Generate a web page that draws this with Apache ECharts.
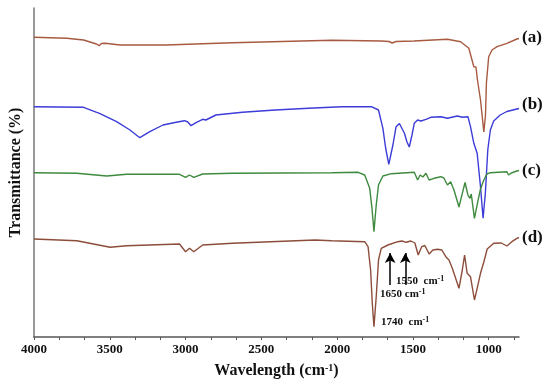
<!DOCTYPE html>
<html>
<head>
<meta charset="utf-8">
<script src="https://cdn.jsdelivr.net/npm/echarts@6/dist/echarts.min.js"></script>
<style>html,body{margin:0;padding:0;background:#fff}#c{width:550px;height:385px}</style>
</head>
<body>
<div id="c"></div>
<script>
// Wavenumbers (cm-1) and relative transmittance (arbitrary units, offset stacked)
const wnA = [4000,3784,3673,3588,3570,3555,3531,3432,3129,2691,2036,1709,1657,1637,1611,1493,1272,1185,1131,1098,1092,1084,1074,1054,1032,1021,1015,1000,978,945,880,814,800];
const tA  = [299.7,298.7,297,293,291.3,293.5,293.7,292,292,294.3,296.7,296,295.5,294,295.5,296,297.7,295.3,288.7,270.3,269,270,257,237,205,222,254,280.3,287,290.3,293.7,298,298.5];

const wnB = [4000,3673,3586,3568,3555,3455,3367,3302,3236,3149,3062,3007,2985,2964,2931,2887,2866,2800,2625,2407,2189,1971,1774,1727,1698,1680,1659,1632,1611,1589,1556,1539,1524,1506,1491,1469,1447,1414,1382,1316,1272,1207,1174,1137,1120,1098,1087,1076,1054,1037,1022,1006,989,967,924,880,814,800];
const tB  = [230.3,229.7,224.7,223.7,223.5,215.3,207,199.3,205.3,212,214.7,216.3,215,211.3,214.3,217.7,217,222,224.7,227,228.7,230.3,230.3,227,208.7,189,172.7,192,210.3,213.5,203.7,195,190,202,213.7,217,216,217.7,219.7,220.3,218.7,221,219.7,220.3,210.3,193.7,195.3,183.7,150.3,118.7,143.7,187,207,216,222,225.5,228,228.5];

const wnC = [4000,3717,3520,3389,3040,3000,2974,2946,2887,2691,2036,1861,1818,1785,1770,1757,1742,1727,1698,1643,1491,1469,1452,1434,1414,1393,1360,1316,1296,1272,1251,1229,1196,1174,1156,1137,1124,1115,1094,1072,1054,1032,1012,989,880,869,851,814,800];
const tC  = [164.3,163.7,161,162.7,162.7,159.7,162,159.7,163,163.7,164.3,164.7,162,148.7,128.7,105.3,132,152,161,163.3,164.7,157,162,160,163.7,157,158.7,160.3,159,152,155.3,147,130,143.7,154.5,142,138.7,143,118.7,135.3,148,157,163,164.3,165.3,162,164,166,166.5];

const wnD = [4000,3717,3498,3389,3040,3000,2974,2946,2887,2691,2145,2036,1818,1796,1779,1768,1757,1742,1727,1709,1665,1600,1572,1545,1513,1487,1465,1442,1421,1393,1368,1338,1309,1283,1262,1240,1196,1174,1159,1142,1120,1094,1076,1054,1032,1010,967,917,880,847,814,800];
const tD  = [98,96.3,89.7,91.3,93,85.3,88.7,85.3,92,93.7,97,96.3,95.3,90.3,67,33.7,10.3,40.3,77,88.7,92,95.3,96,94.7,96,94,82,90.3,91.5,83,87,87.7,87,80.3,77,68.7,48.7,67,82,63.7,60.3,37,48.7,63.7,75,88,93.7,94,91,95.3,98.7,99.5];

const seriesNames = ['(a)','(b)','(c)','(d)'];
const xTickLabels = [1000,1500,2000,2500,3000,3500,4000];
const xMinorTicks = [833.33,1000,1166.67,1333.33,1500,1666.67,1833.33,2000,2166.67,2333.33,2500,2666.67,2833.33,3000,3166.67,3333.33,3500,3666.67,3833.33,4000];
const arrowPeaks = [1650,1550];

const colors = ['#a75a40','#3c3cd8','#3e8a3e','#8d4d3b'];
const serif = '"Liberation Serif","DejaVu Serif",serif';

function pairs(x,y){return x.map((v,i)=>[v,y[i]]);}
const allData = [pairs(wnA,tA),pairs(wnB,tB),pairs(wnC,tC),pairs(wnD,tD)];

const chart = echarts.init(document.getElementById('c'));
const series = allData.map((d,i)=>({
  type:'line', data:d, name:seriesNames[i], showSymbol:false, smooth:false,
  lineStyle:{color:colors[i], width:1.4},
  animation:false
}));
series[3].markLine = {
  silent:true, symbol:['none','arrow'], symbolSize:[8,10],
  lineStyle:{color:'#000', width:1.5, type:'solid'}, label:{show:false},
  data: arrowPeaks.map(p=>[{coord:[p,52]},{coord:[p,84]}])
};

const supRich = {s:{font:'bold 8px '+serif, fill:'#111', verticalAlign:'top', padding:[0,0,4,0]}};
const labelY = [39, 106, 172, 239];

chart.setOption({
  animation:false,
  grid:{left:30, right:31, top:8, bottom:48},
  xAxis:{
    type:'value', inverse:true, min:800, max:4000,
    axisLine:{lineStyle:{color:'#555', width:1.5}},
    axisTick:{show:true, length:3, customValues:xMinorTicks, lineStyle:{color:'#555'}},
    axisLabel:{customValues:xTickLabels, formatter:v=>String(Math.round(v)), color:'#111', fontFamily:serif, fontWeight:'bold', fontSize:13, margin:6},
    splitLine:{show:false},
    name:'Wavelength (cm{s|-1})', nameLocation:'middle', nameGap:26,
    nameTextStyle:{color:'#111', fontFamily:serif, fontWeight:'bold', fontSize:16,
      rich:{s:{fontFamily:serif, fontWeight:'bold', fontSize:10, verticalAlign:'top', padding:[0,0,6,0], color:'#111'}}}
  },
  yAxis:{
    type:'value', min:0, max:329,
    axisLine:{show:true, lineStyle:{color:'#777', width:1.5}},
    axisTick:{show:false}, axisLabel:{show:false}, splitLine:{show:false},
    name:'Transmittance (%)', nameLocation:'middle', nameGap:10,
    nameTextStyle:{color:'#111', fontFamily:serif, fontWeight:'bold', fontSize:16}
  },
  graphic:[
    ...seriesNames.map((n,i)=>({type:'text', left:522, top:labelY[i]-10,
      style:{text:n, font:'bold 17px '+serif, fill:'#111'}})),
    {type:'text', left:396, top:275, style:{text:'1550  cm{s|-1}', font:'bold 11px '+serif, fill:'#111', rich:supRich}},
    {type:'text', left:380, top:288, style:{text:'1650 cm{s|-1}', font:'bold 11px '+serif, fill:'#111', rich:supRich}},
    {type:'text', left:381, top:316, style:{text:'1740  cm{s|-1}', font:'bold 11px '+serif, fill:'#111', rich:supRich}}
  ],
  series:series
});
</script>
</body>
</html>
